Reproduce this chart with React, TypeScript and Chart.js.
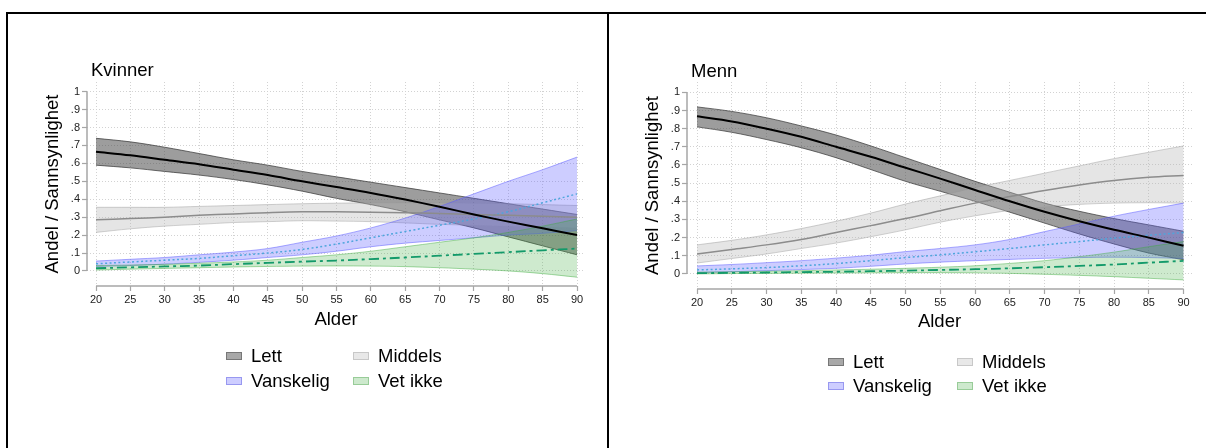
import React, { useEffect, useRef } from 'react';
import { Chart, registerables } from 'chart.js';

Chart.register(...registerables);

// ---------- data ----------
const ages = [20, 25, 30, 35, 40, 45, 50, 55, 60, 65, 70, 75, 80, 85, 90];
const xTickValues = [20, 25, 30, 35, 40, 45, 50, 55, 60, 65, 70, 75, 80, 85, 90];
const yTickValues = [0, 0.1, 0.2, 0.3, 0.4, 0.5, 0.6, 0.7, 0.8, 0.9, 1];
const yTickLabels = ['0', '.1', '.2', '.3', '.4', '.5', '.6', '.7', '.8', '.9', '1'];
const legendLabels = ['Lett', 'Middels', 'Vanskelig', 'Vet ikke'];
const panelTitles = ['Kvinner', 'Menn'];
const xTitle = 'Alder';
const yTitle = 'Andel / Sannsynlighet';

// Kvinner
const kvLettMean = [0.665, 0.645, 0.62, 0.595, 0.565, 0.535, 0.5, 0.468, 0.435, 0.398, 0.358, 0.315, 0.275, 0.238, 0.2];
const kvLettHi = [0.74, 0.72, 0.69, 0.655, 0.62, 0.59, 0.555, 0.525, 0.495, 0.465, 0.435, 0.405, 0.375, 0.345, 0.315];
const kvLettLo = [0.59, 0.575, 0.555, 0.535, 0.51, 0.48, 0.445, 0.405, 0.37, 0.33, 0.285, 0.24, 0.19, 0.14, 0.09];
const kvMidMean = [0.285, 0.292, 0.3, 0.31, 0.318, 0.325, 0.33, 0.33, 0.328, 0.325, 0.32, 0.315, 0.31, 0.305, 0.3];
const kvMidHi = [0.355, 0.355, 0.355, 0.36, 0.365, 0.37, 0.375, 0.378, 0.38, 0.38, 0.38, 0.378, 0.375, 0.37, 0.365];
const kvMidLo = [0.215, 0.235, 0.25, 0.26, 0.27, 0.275, 0.28, 0.278, 0.275, 0.268, 0.26, 0.255, 0.25, 0.245, 0.24];
const kvVanMean = [0.04, 0.05, 0.06, 0.07, 0.085, 0.1, 0.12, 0.15, 0.185, 0.22, 0.255, 0.29, 0.33, 0.38, 0.43];
const kvVanHi = [0.055, 0.065, 0.075, 0.09, 0.105, 0.125, 0.16, 0.195, 0.24, 0.295, 0.36, 0.43, 0.5, 0.565, 0.635];
const kvVanLo = [0.025, 0.03, 0.038, 0.048, 0.06, 0.075, 0.09, 0.11, 0.135, 0.155, 0.17, 0.185, 0.2, 0.21, 0.225];
const kvVetMean = [0.015, 0.02, 0.025, 0.03, 0.038, 0.045, 0.052, 0.058, 0.066, 0.075, 0.085, 0.095, 0.105, 0.115, 0.125];
const kvVetHi = [0.03, 0.033, 0.037, 0.043, 0.05, 0.06, 0.075, 0.09, 0.11, 0.135, 0.16, 0.185, 0.215, 0.25, 0.29];
const kvVetLo = [0.005, 0.01, 0.014, 0.018, 0.022, 0.025, 0.027, 0.028, 0.027, 0.024, 0.018, 0.01, 0.0, -0.015, -0.035];

// Menn
const mnLettMean = [0.868, 0.84, 0.8, 0.755, 0.7, 0.645, 0.585, 0.525, 0.462, 0.4, 0.342, 0.29, 0.243, 0.2, 0.155];
const mnLettHi = [0.92, 0.895, 0.86, 0.815, 0.765, 0.705, 0.64, 0.575, 0.51, 0.45, 0.39, 0.345, 0.305, 0.27, 0.235];
const mnLettLo = [0.81, 0.78, 0.74, 0.695, 0.64, 0.575, 0.51, 0.455, 0.4, 0.34, 0.28, 0.22, 0.165, 0.115, 0.078];
const mnMidMean = [0.11, 0.135, 0.16, 0.19, 0.228, 0.266, 0.305, 0.348, 0.39, 0.426, 0.46, 0.49, 0.515, 0.532, 0.542];
const mnMidHi = [0.16, 0.185, 0.215, 0.25, 0.29, 0.335, 0.385, 0.43, 0.475, 0.515, 0.555, 0.595, 0.635, 0.67, 0.705];
const mnMidLo = [0.06, 0.085, 0.11, 0.14, 0.17, 0.205, 0.243, 0.285, 0.32, 0.35, 0.37, 0.383, 0.39, 0.392, 0.39];
const mnVanMean = [0.022, 0.028, 0.035, 0.045, 0.057, 0.073, 0.09, 0.105, 0.122, 0.14, 0.16, 0.178, 0.197, 0.213, 0.228];
const mnVanHi = [0.044, 0.052, 0.062, 0.073, 0.087, 0.103, 0.123, 0.14, 0.16, 0.19, 0.233, 0.275, 0.318, 0.355, 0.39];
const mnVanLo = [0.007, 0.012, 0.018, 0.024, 0.031, 0.042, 0.055, 0.065, 0.073, 0.08, 0.086, 0.09, 0.092, 0.09, 0.085];
const mnVetMean = [0.004, 0.006, 0.008, 0.01, 0.012, 0.015, 0.018, 0.022, 0.026, 0.031, 0.037, 0.044, 0.052, 0.062, 0.072];
const mnVetHi = [0.01, 0.012, 0.015, 0.018, 0.022, 0.026, 0.031, 0.037, 0.045, 0.058, 0.073, 0.095, 0.12, 0.15, 0.178];
const mnVetLo = [0.0, 0.002, 0.003, 0.004, 0.005, 0.006, 0.007, 0.007, 0.006, 0.003, -0.002, -0.008, -0.015, -0.024, -0.033];

// ---------- styles ----------
const FONT = '"Liberation Sans", Arial, Helvetica, sans-serif';
const bandFill = ['rgba(60,60,60,0.5)', 'rgba(180,180,180,0.35)', 'rgba(90,90,255,0.3)', 'rgba(60,170,60,0.25)'];
const bandEdge = ['rgba(60,60,60,0.75)', 'rgba(150,150,150,0.45)', 'rgba(90,90,255,0.5)', 'rgba(60,170,60,0.45)'];
const swatchFill = ['#a8a8a8', '#e8e8e8', '#cdcdff', '#cde9cd'];
const swatchEdge = ['#777777', '#c8c8c8', '#9898f0', '#98cc98'];
const meanColor = ['#000000', '#8c8c8c', '#4ea6dc', '#139a6a'];
const meanWidth = [2, 1.5, 1.5, 1.8];
const meanDash: number[][] = [[], [], [2, 2.5], [10, 4, 3, 4]];

type Series = { mean: number[]; hi: number[]; lo: number[] };

type PanelGeom = {
  left: number;
  width: number;
  padLeft: number;
  padRight: number;
  padTop: number;
  padBottom: number;
  yAxisW: number;
  xAxisH: number;
  xMin: number;
  xMax: number;
  yMin: number;
  yMax: number;
  titleY: number;
  legendX: [number, number];
  legendY: [number, number];
};

const pts = (vals: number[]) => ages.map((a, i) => ({ x: a, y: vals[i] }));

const decorPlugin = {
  id: 'panelDecor',
  afterDraw(chart: any, _args: any, opts: any) {
    const { ctx, chartArea, scales } = chart;
    const x = scales.x;
    const y = scales.y;
    ctx.save();
    ctx.strokeStyle = '#a6a6a6';
    ctx.lineWidth = 1.5;
    ctx.setLineDash([]);
    ctx.beginPath();
    ctx.moveTo(chartArea.left, y.getPixelForValue(yTickValues[0]));
    ctx.lineTo(chartArea.left, y.getPixelForValue(yTickValues[yTickValues.length - 1]));
    ctx.moveTo(x.getPixelForValue(xTickValues[0]), chartArea.bottom);
    ctx.lineTo(x.getPixelForValue(xTickValues[xTickValues.length - 1]), chartArea.bottom);
    ctx.stroke();
    ctx.fillStyle = '#000';
    ctx.font = `18.5px ${FONT}`;
    ctx.textBaseline = 'middle';
    ctx.textAlign = 'left';
    ctx.fillText(opts.text, chartArea.left + 4, opts.titleY);
    ctx.restore();
  },
};

function Panel({ title, series, g }: { title: string; series: Series[]; g: PanelGeom }) {
  const ref = useRef<HTMLCanvasElement | null>(null);

  useEffect(() => {
    if (!ref.current) return;
    const meanSets = series.map((s, k) => ({
      label: legendLabels[k],
      data: pts(s.mean),
      borderColor: meanColor[k],
      borderWidth: meanWidth[k],
      borderDash: meanDash[k],
      pointRadius: 0,
      fill: false,
      tension: 0.35,
    }));
    const bandSets: any[] = [];
    for (let k = series.length - 1; k >= 0; k--) {
      const s = series[k];
      bandSets.push({
        label: legendLabels[k] + ' øvre',
        data: pts(s.hi),
        borderColor: bandEdge[k],
        borderWidth: 1,
        backgroundColor: bandFill[k],
        pointRadius: 0,
        fill: '+1',
        tension: 0.35,
      });
      bandSets.push({
        label: legendLabels[k] + ' nedre',
        data: pts(s.lo),
        borderColor: bandEdge[k],
        borderWidth: 1,
        pointRadius: 0,
        fill: false,
        tension: 0.35,
      });
    }
    const tickFont = { family: FONT, size: 11 };
    const titleFont = { family: FONT, size: 18.5 };
    const chart = new Chart(ref.current, {
      type: 'line',
      data: { datasets: [...meanSets, ...bandSets] },
      plugins: [decorPlugin as any],
      options: {
        animation: false,
        responsive: false,
        maintainAspectRatio: false,
        layout: { padding: { left: g.padLeft, right: g.padRight, top: g.padTop, bottom: g.padBottom } },
        plugins: {
          legend: { display: false },
          tooltip: { enabled: false },
          panelDecor: { text: title, titleY: g.titleY },
        } as any,
        scales: {
          x: {
            type: 'linear',
            min: g.xMin,
            max: g.xMax,
            afterBuildTicks: (ax: any) => {
              ax.ticks = xTickValues.map((v) => ({ value: v }));
            },
            afterFit: (s: any) => {
              s.height = g.xAxisH;
            },
            ticks: { font: tickFont, color: '#222', padding: 2, maxRotation: 0, autoSkip: false },
            grid: { color: '#d2d2d2', lineWidth: 1, tickColor: '#a6a6a6', tickLength: 5, tickWidth: 1.2, tickBorderDash: [] },
            border: { display: false, dash: [1, 2] },
            title: { display: true, text: xTitle, font: titleFont, color: '#000', padding: 0 },
          },
          y: {
            type: 'linear',
            min: g.yMin,
            max: g.yMax,
            afterBuildTicks: (ax: any) => {
              ax.ticks = yTickValues.map((v) => ({ value: v }));
            },
            afterFit: (s: any) => {
              s.width = g.yAxisW;
            },
            ticks: {
              font: tickFont,
              color: '#222',
              padding: 2,
              autoSkip: false,
              callback: (v: any) => {
                const i = yTickValues.findIndex((t) => Math.abs(t - Number(v)) < 1e-9);
                return i >= 0 ? yTickLabels[i] : '';
              },
            },
            grid: { color: '#d2d2d2', lineWidth: 1, tickColor: '#a6a6a6', tickLength: 5, tickWidth: 1.2, tickBorderDash: [] },
            border: { display: false, dash: [1, 2] },
            title: { display: true, text: yTitle, font: titleFont, color: '#000', padding: 0 },
          },
        },
      } as any,
    });
    return () => chart.destroy();
  }, [title, series, g]);

  const cols = [0, 1];
  const rows = [0, 1];
  return (
    <>
      <canvas
        ref={ref}
        width={g.width}
        height={448}
        style={{ position: 'absolute', left: g.left, top: 0, width: g.width, height: 448 }}
      />
      {rows.map((r) =>
        cols.map((c) => {
          const k = r * 2 + c;
          const sx = g.left + g.legendX[c];
          const cy = g.legendY[r];
          return (
            <React.Fragment key={k}>
              <div
                style={{
                  position: 'absolute',
                  left: sx,
                  top: cy - 4,
                  width: 14,
                  height: 6,
                  background: swatchFill[k],
                  border: `1px solid ${swatchEdge[k]}`,
                }}
              />
              <div
                style={{
                  position: 'absolute',
                  left: sx + 25,
                  top: cy - 12,
                  height: 24,
                  lineHeight: '24px',
                  fontFamily: FONT,
                  fontSize: '18.5px',
                  color: '#000',
                  whiteSpace: 'nowrap',
                }}
              >
                {legendLabels[k]}
              </div>
            </React.Fragment>
          );
        })
      )}
    </>
  );
}

const kvSeries: Series[] = [
  { mean: kvLettMean, hi: kvLettHi, lo: kvLettLo },
  { mean: kvMidMean, hi: kvMidHi, lo: kvMidLo },
  { mean: kvVanMean, hi: kvVanHi, lo: kvVanLo },
  { mean: kvVetMean, hi: kvVetHi, lo: kvVetLo },
];
const mnSeries: Series[] = [
  { mean: mnLettMean, hi: mnLettHi, lo: mnLettLo },
  { mean: mnMidMean, hi: mnMidHi, lo: mnMidLo },
  { mean: mnVanMean, hi: mnVanHi, lo: mnVanLo },
  { mean: mnVetMean, hi: mnVetHi, lo: mnVetLo },
];

const leftGeom: PanelGeom = {
  left: 0,
  width: 607,
  padLeft: 42,
  padRight: 22,
  padTop: 82,
  padBottom: 117,
  yAxisW: 45,
  xAxisH: 45,
  xMin: 18.69,
  xMax: 91.16,
  yMin: -0.084,
  yMax: 1.054,
  titleY: 71,
  legendX: [226, 353],
  legendY: [356, 381],
};
const rightGeom: PanelGeom = {
  left: 607,
  width: 599,
  padLeft: 35,
  padRight: 14,
  padTop: 82,
  padBottom: 115,
  yAxisW: 45,
  xAxisH: 44,
  xMin: 18.56,
  xMax: 91.21,
  yMin: -0.083,
  yMax: 1.057,
  titleY: 72,
  legendX: [221, 350],
  legendY: [362, 386],
};

export default function App() {
  return (
    <div style={{ position: 'absolute', left: 0, top: 0, width: 1206, height: 448, background: '#fff', overflow: 'hidden' }}>
      <Panel title={panelTitles[0]} series={kvSeries} g={leftGeom} />
      <Panel title={panelTitles[1]} series={mnSeries} g={rightGeom} />
      <div style={{ position: 'absolute', left: 6, top: 12, width: 1200, height: 2, background: '#000' }} />
      <div style={{ position: 'absolute', left: 6, top: 12, width: 2, height: 436, background: '#000' }} />
      <div style={{ position: 'absolute', left: 607, top: 12, width: 2, height: 436, background: '#000' }} />
    </div>
  );
}
